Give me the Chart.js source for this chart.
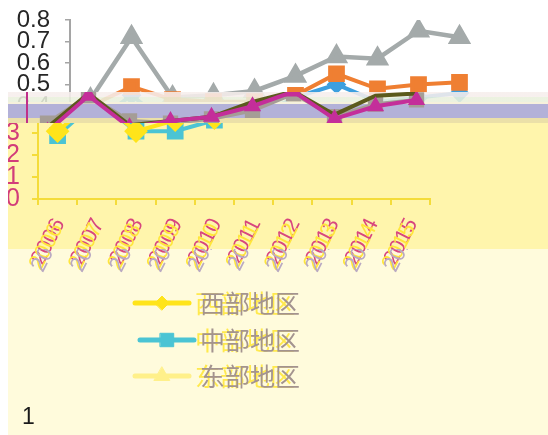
<!DOCTYPE html>
<html>
<head>
<meta charset="utf-8">
<script src="https://cdn.jsdelivr.net/npm/chart.js@4.4.1/dist/chart.umd.min.js"></script>
<style>
  html, body { margin: 0; padding: 0; width: 548px; height: 435px; overflow: hidden; background: #ffffff; }
  .clip { position: absolute; overflow: hidden; }
  .clip canvas { position: absolute; }
  #topClip { left: 0; top: 0; width: 548px; height: 103px; background: #ffffff; }
  #topClip canvas { left: 0; top: 0; }
  #stripClip {
    left: 8px; top: 92px; width: 540px; height: 31px;
    background: linear-gradient(to bottom,
      rgba(246, 238, 236, 0.88) 0px, rgba(246, 238, 236, 0.88) 5px,
      rgba(233, 240, 220, 0.88) 5px, rgba(233, 240, 220, 0.88) 10px,
      #f6f1dc 10px, #f6f1dc 12px,
      #b3b1d8 12px, #b3b1d8 26px,
      #ebe0a8 26px, #ebe0a8 31px);
  }
  #stripClip canvas { left: -51px; top: -92px; }
  #baseClip {
    left: 8px; top: 123px; width: 540px; height: 312px;
    background: linear-gradient(to bottom, #fff5ac 0px, #fff5ac 126px, #fffbdc 126px, #fffbdc 312px);
  }
  #baseClip canvas { left: -8px; top: -123px; }
  #pageNo { position: absolute; left: 22px; top: 403px; font: 23px 'Liberation Sans', Arial, sans-serif; color: #1a1a1a; }
</style>
</head>
<body>
<div class="clip" id="topClip"><canvas id="topChart" width="548" height="435"></canvas></div>
<div class="clip" id="stripClip"><canvas id="stripChart" width="548" height="435"></canvas></div>
<div class="clip" id="baseClip"><canvas id="baseChart" width="548" height="435"></canvas></div>
<div id="pageNo">1</div>

<script>
// Years on the category axis
const years = ['2006', '2007', '2008', '2009', '2010', '2011', '2012', '2013', '2014', '2015'];
const seriesNames = ['西部地区', '中部地区', '东部地区'];
const yTickValues = [0, 0.1, 0.2, 0.3, 0.4, 0.5, 0.6, 0.7, 0.8];

// Upper rendering (blue / orange / grey)
const westTop    = [0.31, 0.45, 0.30, 0.32, 0.35, 0.44, 0.50, 0.42, 0.44, 0.46];
const centralTop = [0.40, 0.49, 0.43, 0.42, 0.42, 0.45, 0.55, 0.48, 0.50, 0.51];
const eastTop    = [0.43, 0.72, 0.44, 0.45, 0.47, 0.54, 0.63, 0.62, 0.75, 0.72];

// Middle strip rendering (magenta / olive / grey-brown)
const stripA = [0.28, 0.45, 0.30, 0.33, 0.35, 0.40, 0.47, 0.34, 0.40, 0.43];
const stripB = [0.30, 0.46, 0.31, 0.33, 0.35, 0.42, 0.47, 0.36, 0.45, 0.46];
const stripC = [0.32, 0.45, 0.33, 0.32, 0.34, 0.38, 0.46, 0.35, 0.41, 0.43];

// Lower rendering (yellow / teal / pale yellow) with the legend
const westBase    = [0.31, 0.46, 0.31, 0.36, 0.37, 0.42, 0.46, 0.42, 0.44, 0.46];
const centralBase = [0.29, 0.45, 0.31, 0.31, 0.36, 0.40, 0.45, 0.40, 0.42, 0.44];
const eastBase    = [0.43, 0.72, 0.44, 0.45, 0.47, 0.54, 0.63, 0.62, 0.75, 0.72];

Chart.defaults.font.family = "'Liberation Sans', Arial, sans-serif";
Chart.defaults.animation = false;

const fixedYTicks = s => { s.ticks = yTickValues.map(v => ({ value: v })); };
// pin the axis width and let the layout padding alone decide the plot's top and bottom
const pinWidth = w => s => { s.width = w; s.paddingTop = 0; s.paddingBottom = 0; };

const common = {
  responsive: false,
  animation: false,
  devicePixelRatio: 1,
  plugins: { legend: { display: false }, tooltip: { enabled: false } }
};

// ---------- upper chart ----------
new Chart(document.getElementById('topChart'), {
  type: 'line',
  data: {
    labels: years,
    datasets: [
      { label: seriesNames[1], data: centralTop, borderColor: '#ef7f32', backgroundColor: '#ef7f32',
        borderWidth: 4, pointStyle: 'rect', pointRadius: 9, order: 1 },
      { label: seriesNames[0], data: westTop, borderColor: '#3c9fdf', backgroundColor: '#3c9fdf',
        borderWidth: 4, pointStyle: 'rectRot', pointRadius: 7, order: 2 },
      { label: seriesNames[2], data: eastTop, borderColor: '#a4aaaa', backgroundColor: '#a4aaaa',
        borderWidth: 4.5, pointStyle: 'triangle', pointRadius: 9, order: 3 }
    ]
  },
  options: Object.assign({}, common, {
    layout: { padding: { left: 0, right: 68, top: 20, bottom: 243 } },
    scales: {
      x: { display: false, offset: true },
      y: {
        min: 0, max: 0.8,
        afterFit: pinWidth(70),
        afterBuildTicks: fixedYTicks,
        ticks: { autoSkip: false, color: '#262626', font: { size: 24 }, padding: 15 },
        grid: { drawOnChartArea: false, tickLength: 5, color: '#a5a5a5', lineWidth: 1.5 },
        border: { color: '#a5a5a5', width: 2 }
      }
    }
  })
});

// ---------- middle strip chart ----------
new Chart(document.getElementById('stripChart'), {
  type: 'line',
  data: {
    labels: years,
    datasets: [
      { label: 'A', data: stripA, borderColor: '#c42e9a', backgroundColor: '#c42e9a',
        borderWidth: 4, pointStyle: 'triangle', pointRadius: 6, order: 1 },
      { label: 'B', data: stripB, borderColor: '#5b5a1c', backgroundColor: '#5b5a1c',
        borderWidth: 4, pointRadius: 0, order: 2 },
      { label: 'C', data: stripC, borderColor: '#a59d96', backgroundColor: '#a59d96',
        borderWidth: 4, pointStyle: 'rect', pointRadius: 8, order: 3 }
    ]
  },
  options: Object.assign({}, common, {
    layout: { padding: { left: 0, right: 68, top: 22, bottom: 244.5 } },
    scales: {
      x: { display: false, offset: true },
      y: {
        min: 0, max: 0.8,
        afterFit: pinWidth(70),
        ticks: { display: false },
        grid: { display: false },
        border: { color: '#c0308a', width: 2 }
      }
    }
  })
});

// ---------- lower chart: ghosted year labels and the legend ----------
const yearLabelsAndLegend = {
  id: 'yearLabelsAndLegend',
  afterDraw(chart) {
    const ctx = chart.ctx;
    const xs = chart.scales.x;
    const baseY = xs.top + 26;
    const rot = -63 * Math.PI / 180;

    const drawYears = (color, dx, dy, clipTop) => {
      ctx.save();
      if (clipTop) { ctx.beginPath(); ctx.rect(0, clipTop, chart.width, chart.height - clipTop); ctx.clip(); }
      ctx.fillStyle = color;
      ctx.font = "22px 'Liberation Sans', Arial, sans-serif";
      ctx.textAlign = 'right';
      ctx.textBaseline = 'middle';
      chart.data.labels.forEach((lab, i) => {
        const x = xs.getPixelForTick(i) + dx;
        ctx.save();
        ctx.translate(x, baseY + dy);
        ctx.rotate(rot);
        ctx.fillText(lab, 0, 0);
        ctx.restore();
      });
      ctx.restore();
    };
    drawYears('#d8467e', 2, -5);
    drawYears('#ffe63a', 0, 0);
    drawYears('#b9a9c2', 2, 2, 249);

    // legend: one row per series, line with its marker, then the name
    const rowY = [303, 340, 376];
    const markerR = { rectRot: 7, rect: 9.5, triangle: 9 };
    chart.data.datasets.forEach((ds, i) => {
      const y = rowY[i];
      const x0 = i === 1 ? 140 : 135;
      ctx.save();
      ctx.strokeStyle = ds.borderColor;
      ctx.fillStyle = ds.borderColor;
      ctx.lineWidth = 5;
      ctx.lineCap = 'round';
      ctx.beginPath(); ctx.moveTo(x0, y); ctx.lineTo(x0 + 54, y); ctx.stroke();
      ctx.lineWidth = 1;
      Chart.helpers.drawPoint(ctx, { pointStyle: ds.pointStyle, radius: markerR[ds.pointStyle], rotation: 0, borderWidth: 1 },
        x0 + 27, y);
      ctx.font = "25px 'Noto Sans CJK SC', sans-serif";
      ctx.textAlign = 'left';
      ctx.textBaseline = 'middle';
      ctx.fillStyle = '#ffe94d';
      ctx.fillText(ds.label, 195, y);
      ctx.fillStyle = '#a3938f';
      ctx.fillText(ds.label, 200, y);
      ctx.restore();
    });
  }
};

new Chart(document.getElementById('baseChart'), {
  type: 'line',
  data: {
    labels: years,
    datasets: [
      { label: seriesNames[0], data: westBase, borderColor: '#ffe41a', backgroundColor: '#ffe41a',
        borderWidth: 4, pointStyle: 'rectRot', pointRadius: 9 },
      { label: seriesNames[1], data: centralBase, borderColor: '#4bc4d4', backgroundColor: '#4bc4d4',
        borderWidth: 4, pointStyle: 'rect', pointRadius: 9 },
      { label: seriesNames[2], data: eastBase, borderColor: '#fff08a', backgroundColor: '#fff08a',
        borderWidth: 4, pointStyle: 'triangle', pointRadius: 9 }
    ]
  },
  options: Object.assign({}, common, {
    layout: { padding: { left: 0, right: 118, top: 24, bottom: 176 } },
    scales: {
      x: {
        offset: true,
        afterFit: s => { s.height = 60; },
        ticks: { display: false },
        grid: { offset: true, drawOnChartArea: false, tickLength: 6, color: '#f4dc3a', lineWidth: 2 },
        border: { color: '#f4dc3a', width: 2 }
      },
      y: {
        min: 0, max: 0.8,
        afterFit: pinWidth(38),
        afterBuildTicks: fixedYTicks,
        ticks: { autoSkip: false, color: '#d23c7a', font: { size: 25 }, padding: 12 },
        grid: { drawOnChartArea: false, tickLength: 6, color: '#f4dc3a', lineWidth: 2 },
        border: { color: '#f4dc3a', width: 2 }
      }
    }
  }),
  plugins: [yearLabelsAndLegend]
});
</script>
</body>
</html>
